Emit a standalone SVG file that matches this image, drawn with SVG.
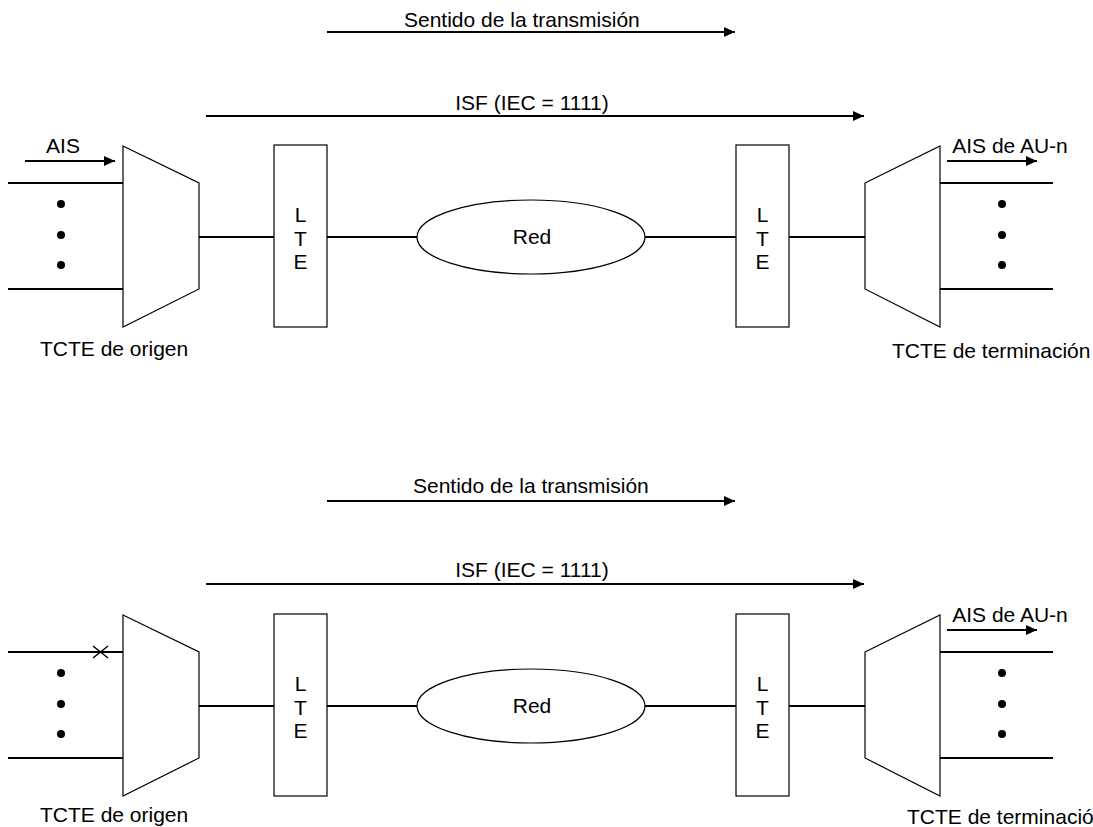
<svg xmlns="http://www.w3.org/2000/svg" width="1093" height="827" viewBox="0 0 1093 827">
<defs>
<marker id="ah" markerWidth="11" markerHeight="10" refX="11" refY="5" orient="auto" markerUnits="userSpaceOnUse">
<path d="M0,0 L11,5 L0,10 Z" fill="#000"/>
</marker>
<style>
text{font-family:"Liberation Sans",Arial,sans-serif;font-size:21px;fill:#000}
.m{text-anchor:middle}
.ln{stroke:#000;stroke-width:2;fill:none}
.ar{stroke:#000;stroke-width:2;fill:none;marker-end:url(#ah)}
.sh{stroke:#000;stroke-width:1.2;fill:#fff}
</style>
</defs>
<rect width="1093" height="827" fill="#fff"/>

<!-- ===== TOP DIAGRAM ===== -->
<g id="top-labels">
<text x="404" y="27">Sentido de la transmisión</text>
<text class="m" x="532" y="110">ISF (IEC = 1111)</text>
<text class="m" x="63" y="153">AIS</text>
<text class="m" x="1010" y="153">AIS de AU-n</text>
</g>
<g id="top-connectors">
<line class="ar" x1="327" y1="32" x2="735" y2="32"/>
<line class="ar" x1="206" y1="116" x2="864" y2="116"/>
<line class="ar" x1="25" y1="161" x2="115" y2="161"/>
<line class="ar" x1="947" y1="161" x2="1037" y2="161"/>
<line class="ln" x1="8" y1="183" x2="123" y2="183"/>
<line class="ln" x1="8" y1="289" x2="123" y2="289"/>
<line class="ln" x1="199" y1="237" x2="274" y2="237"/>
<line class="ln" x1="327" y1="237" x2="417" y2="237"/>
<line class="ln" x1="645" y1="237" x2="736" y2="237"/>
<line class="ln" x1="789" y1="237" x2="865" y2="237"/>
<line class="ln" x1="940" y1="183" x2="1053" y2="183"/>
<line class="ln" x1="940" y1="289" x2="1053" y2="289"/>
</g>
<g id="top-tcte-origen">
<polygon class="sh" points="123,146 199,183 199,289 123,327"/>
<circle cx="61" cy="204" r="4"/>
<circle cx="61" cy="235" r="4"/>
<circle cx="61" cy="265" r="4"/>
<text x="40" y="356">TCTE de origen</text>
</g>
<g id="top-lte-1">
<rect class="sh" x="274" y="145" width="53" height="182"/>
<text class="m" x="300.5" y="222">L</text>
<text class="m" x="300.5" y="246">T</text>
<text class="m" x="300.5" y="269">E</text>
</g>
<g id="top-red">
<ellipse class="sh" cx="531" cy="237" rx="114" ry="37"/>
<text class="m" x="532" y="244">Red</text>
</g>
<g id="top-lte-2">
<rect class="sh" x="736" y="145" width="53" height="182"/>
<text class="m" x="762.5" y="222">L</text>
<text class="m" x="762.5" y="246">T</text>
<text class="m" x="762.5" y="269">E</text>
</g>
<g id="top-tcte-term">
<polygon class="sh" points="865,183 940,146 940,327 865,289"/>
<circle cx="1002" cy="204" r="4"/>
<circle cx="1002" cy="235" r="4"/>
<circle cx="1002" cy="265" r="4"/>
<text x="892" y="358">TCTE de terminación</text>
</g>

<!-- ===== BOTTOM DIAGRAM ===== -->
<g id="bottom-labels">
<text x="413" y="493">Sentido de la transmisión</text>
<text class="m" x="532" y="577">ISF (IEC = 1111)</text>
<text class="m" x="1010" y="622">AIS de AU-n</text>
</g>
<g id="bottom-connectors">
<line class="ar" x1="327" y1="501" x2="735" y2="501"/>
<line class="ar" x1="206" y1="584" x2="864" y2="584"/>
<line class="ar" x1="947" y1="630" x2="1037" y2="630"/>
<line class="ln" x1="8" y1="652" x2="123" y2="652"/>
<line class="ln" x1="8" y1="758" x2="123" y2="758"/>
<line class="ln" x1="199" y1="706" x2="274" y2="706"/>
<line class="ln" x1="327" y1="706" x2="417" y2="706"/>
<line class="ln" x1="645" y1="706" x2="736" y2="706"/>
<line class="ln" x1="789" y1="706" x2="865" y2="706"/>
<line class="ln" x1="940" y1="652" x2="1053" y2="652"/>
<line class="ln" x1="940" y1="758" x2="1053" y2="758"/>
<path d="M93,646 L108,658 M93,658 L108,646" stroke="#000" stroke-width="1.5" fill="none"/>
</g>
<g id="bottom-tcte-origen">
<polygon class="sh" points="123,615 199,652 199,758 123,796"/>
<circle cx="61" cy="673" r="4"/>
<circle cx="61" cy="704" r="4"/>
<circle cx="61" cy="734" r="4"/>
<text x="40" y="822">TCTE de origen</text>
</g>
<g id="bottom-lte-1">
<rect class="sh" x="274" y="614" width="53" height="182"/>
<text class="m" x="300.5" y="691">L</text>
<text class="m" x="300.5" y="715">T</text>
<text class="m" x="300.5" y="738">E</text>
</g>
<g id="bottom-red">
<ellipse class="sh" cx="531" cy="706" rx="114" ry="37"/>
<text class="m" x="532" y="713">Red</text>
</g>
<g id="bottom-lte-2">
<rect class="sh" x="736" y="614" width="53" height="182"/>
<text class="m" x="762.5" y="691">L</text>
<text class="m" x="762.5" y="715">T</text>
<text class="m" x="762.5" y="738">E</text>
</g>
<g id="bottom-tcte-term">
<polygon class="sh" points="865,652 940,615 940,796 865,758"/>
<circle cx="1002" cy="673" r="4"/>
<circle cx="1002" cy="704" r="4"/>
<circle cx="1002" cy="734" r="4"/>
<text x="907" y="824">TCTE de terminació</text>
</g>
</svg>
